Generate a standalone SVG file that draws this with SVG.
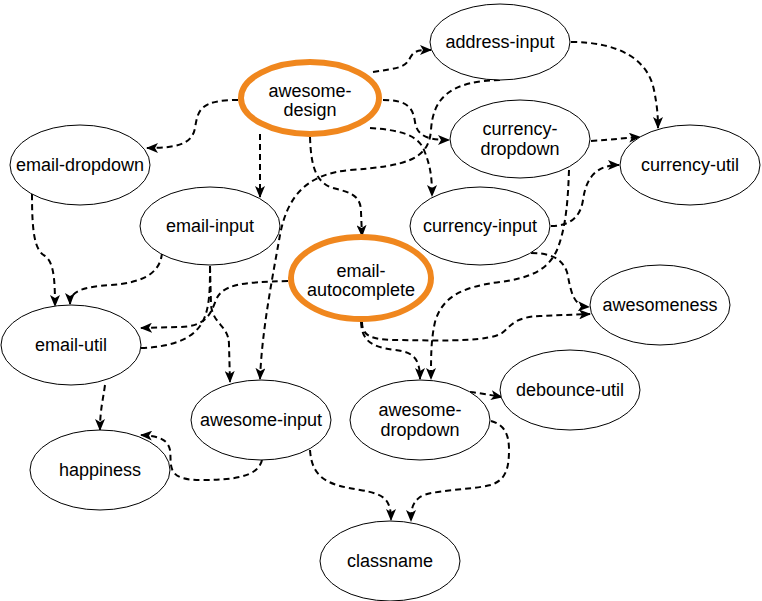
<svg xmlns="http://www.w3.org/2000/svg" width="762" height="601" viewBox="0 0 762 601">
<style>
.n ellipse{fill:#fff;stroke:#000;stroke-width:1}
.n.hl ellipse{stroke:#F0871E;stroke-width:6}
.n text{font-family:"Liberation Sans",Arial,Helvetica,sans-serif;font-size:18px;fill:#000;text-anchor:middle}
#edges path{fill:none;stroke:#000;stroke-width:2;stroke-dasharray:6 4}
#edges path.a{marker-end:url(#arr)}
</style>
<defs>
<marker id="arr" markerUnits="userSpaceOnUse" viewBox="0 0 12 10" markerWidth="12" markerHeight="10" refX="11" refY="5" orient="auto">
<path d="M0,0 L12,5 L0,10 L3,5 Z" fill="#000"/>
</marker>
</defs>
<rect width="762" height="601" fill="#fff"/>
<g id="edges">
<path class="a" d="M238,100 C200,100 198,110 195,128 C192,145 175,148 147,148"/>
<path class="a" d="M260,134 L260,197"/>
<path class="a" d="M310,137 C311,165 315,180 330,187 C345,192 361,192 361,212 L362,236"/>
<path class="a" d="M373,72 C398,68 405,68 410,58 C414,50 420,50 431,50"/>
<path class="a" d="M383,100 C408,100 413,108 415,122 C417,136 428,140 449,140"/>
<path class="a" d="M370,128 C400,130 418,135 424,150 C430,165 432,175 432,196"/>
<path class="a" d="M571,42 C620,42 648,60 654,90 C657,105 658,115 658,128"/>
<path class="a" d="M500,80 C450,81 433,98 431,130 C429,160 405,166 350,170 C305,174 287,198 280,235 C272,280 262,330 260,379"/>
<path class="a" d="M591,141 C610,140 622,138 640,137"/>
<path class="a" d="M569,170 C568,200 566,228 557,250 C548,270 530,278 500,282 C460,287 442,298 435,322 C431,340 431,355 431,379"/>
<path class="a" d="M551,226 C565,226 580,221 583,200 C586,178 596,165 619,165"/>
<path class="a" d="M531,253 C550,253 562,258 567,272 C571,290 572,306 589,307"/>
<path class="a" d="M362,322 C362,338 375,340 400,340 C450,341 490,341 502,333 C512,325 515,317 540,316 L590,314"/>
<path class="a" d="M361,322 C362,340 370,347 395,350 C412,352 420,357 420,379"/>
<path class="a" d="M288,281 C240,282 222,285 216,300 C210,316 205,326 180,327 L141,328"/>
<path d="M141,348 C170,347 190,340 200,326 C210,312 210,290 210,266"/>
<path class="a" d="M210,266 L211,305 C213,325 229,325 229,345 L230,382"/>
<path class="a" d="M162,253 C160,275 140,283 110,285 C85,287 70,290 70,304"/>
<path class="a" d="M32,194 C32,230 34,250 45,256 C53,262 55,275 55,306"/>
<path class="a" d="M105,385 C103,400 100,410 100,430"/>
<path class="a" d="M262,460 C258,478 230,480 200,480 C165,480 172,465 170,450 C168,440 160,436 141,435"/>
<path class="a" d="M310,450 C312,480 330,485 360,490 C385,494 391,500 391,520"/>
<path class="a" d="M491,421 C505,425 509,435 509,450 C509,470 505,480 491,485 C470,490 430,490 420,497 C412,503 411,510 411,521"/>
<path class="a" d="M470,392 C480,393 490,395 502,397"/>
</g>
<g id="awesome-design" class="n hl"><ellipse cx="310" cy="98" rx="69" ry="36"/><text x="310" y="97">awesome-</text><text x="310" y="116">design</text></g>
<g id="address-input" class="n"><ellipse cx="500" cy="42" rx="70" ry="38"/><text x="500" y="48">address-input</text></g>
<g id="currency-dropdown" class="n"><ellipse cx="520" cy="139" rx="70" ry="39"/><text x="520" y="135">currency-</text><text x="520" y="155">dropdown</text></g>
<g id="currency-util" class="n"><ellipse cx="690" cy="165" rx="70" ry="40"/><text x="690" y="171">currency-util</text></g>
<g id="email-dropdown" class="n"><ellipse cx="80" cy="165" rx="70" ry="40"/><text x="80" y="171">email-dropdown</text></g>
<g id="email-input" class="n"><ellipse cx="210" cy="226" rx="70" ry="39"/><text x="210" y="232">email-input</text></g>
<g id="currency-input" class="n"><ellipse cx="480" cy="226" rx="70" ry="39"/><text x="480" y="232">currency-input</text></g>
<g id="email-autocomplete" class="n hl"><ellipse cx="361" cy="278" rx="70" ry="41"/><text x="361" y="277">email-</text><text x="361" y="296">autocomplete</text></g>
<g id="awesomeness" class="n"><ellipse cx="660" cy="305" rx="70" ry="40"/><text x="660" y="311">awesomeness</text></g>
<g id="email-util" class="n"><ellipse cx="71" cy="345" rx="70" ry="40"/><text x="71" y="351">email-util</text></g>
<g id="debounce-util" class="n"><ellipse cx="570" cy="390" rx="70" ry="40"/><text x="570" y="396">debounce-util</text></g>
<g id="awesome-dropdown" class="n"><ellipse cx="420" cy="420" rx="70" ry="40"/><text x="420" y="416">awesome-</text><text x="420" y="436">dropdown</text></g>
<g id="awesome-input" class="n"><ellipse cx="261" cy="420" rx="70" ry="40"/><text x="261" y="426">awesome-input</text></g>
<g id="happiness" class="n"><ellipse cx="100" cy="470" rx="70" ry="40"/><text x="100" y="476">happiness</text></g>
<g id="classname" class="n"><ellipse cx="390" cy="561" rx="70" ry="40"/><text x="390" y="567">classname</text></g>
</svg>
